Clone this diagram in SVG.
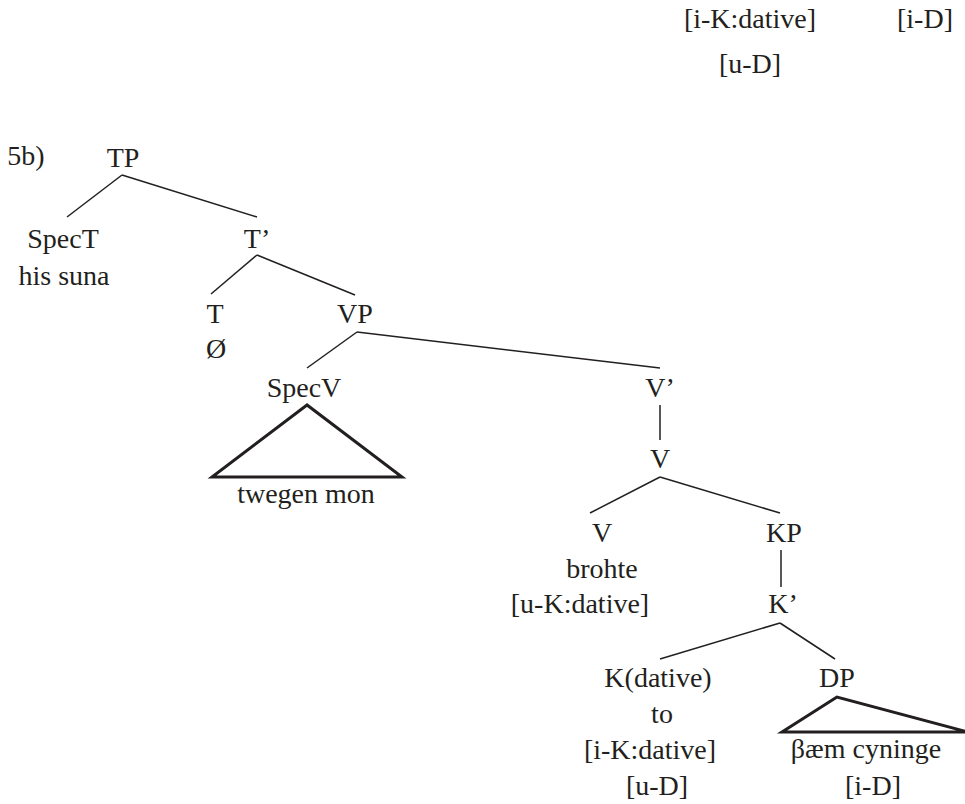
<svg xmlns="http://www.w3.org/2000/svg" width="965" height="804" viewBox="0 0 965 804">
<style>
text{font-family:"Liberation Serif","Times New Roman",serif;font-size:28px;fill:#231f20;text-anchor:middle}
.e{stroke:#231f20;stroke-width:1.5;fill:none}
.tri{stroke:#231f20;stroke-width:3;fill:none;stroke-linejoin:miter}
</style>
<rect width="965" height="804" fill="#fff"/>
<g id="stray">
<text x="750" y="28">[i-K:dative]</text>
<text x="925" y="28">[i-D]</text>
<text x="750" y="73">[u-D]</text>
</g>
<text x="26" y="165">5b)</text>
<g id="connectors">
<line class="e" x1="122" y1="175" x2="67" y2="217"/>
<line class="e" x1="122" y1="175" x2="257" y2="217"/>
<line class="e" x1="257" y1="255" x2="211" y2="294"/>
<line class="e" x1="257" y1="255" x2="355" y2="295"/>
<line class="e" x1="357" y1="332" x2="307" y2="368"/>
<line class="e" x1="357" y1="332" x2="660" y2="368"/>
<line class="e" x1="660" y1="405" x2="660" y2="440"/>
<line class="e" x1="660" y1="477" x2="590" y2="513"/>
<line class="e" x1="660" y1="477" x2="780" y2="513"/>
<line class="e" x1="781" y1="550" x2="781" y2="587"/>
<line class="e" x1="780" y1="623" x2="660" y2="659"/>
<line class="e" x1="780" y1="623" x2="835" y2="659"/>
</g>
<g id="TP"><text x="123" y="167">TP</text></g>
<g id="SpecT"><text x="63" y="248">SpecT</text><text x="64" y="285">his suna</text></g>
<g id="Tbar"><text x="257" y="248">T’</text></g>
<g id="T"><text x="215" y="323">T</text><text x="216" y="358">Ø</text></g>
<g id="VP"><text x="355" y="323">VP</text></g>
<g id="SpecV"><text x="304" y="397">SpecV</text>
<polygon class="tri" points="307,405 212,477 402,477"/>
<text x="306" y="503">twegen mon</text></g>
<g id="Vbar"><text x="660" y="397">V’</text></g>
<g id="V1"><text x="660" y="468">V</text></g>
<g id="V2"><text x="602" y="542">V</text><text x="602" y="578">brohte</text><text x="580" y="613">[u-K:dative]</text></g>
<g id="KP"><text x="784" y="542">KP</text></g>
<g id="Kbar"><text x="783" y="613">K’</text></g>
<g id="K"><text x="658" y="687">K(dative)</text><text x="662" y="723">to</text><text x="650" y="759">[i-K:dative]</text><text x="657" y="795">[u-D]</text></g>
<g id="DP"><text x="837" y="687">DP</text>
<polygon class="tri" points="837,697 782,732 968,732"/>
<text x="866" y="758">βæm cyninge</text><text x="873" y="795">[i-D]</text></g>
</svg>
